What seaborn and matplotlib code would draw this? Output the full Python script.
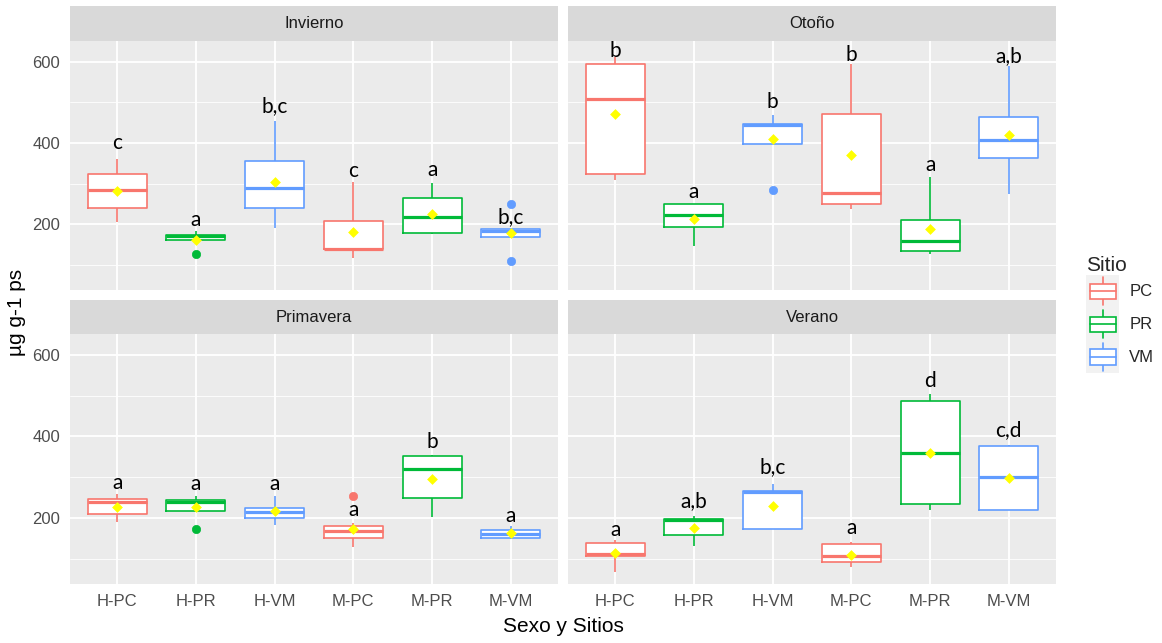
import numpy as np
import pandas as pd
import matplotlib
matplotlib.use("Agg")
import matplotlib.pyplot as plt
import seaborn as sns
from matplotlib.patches import Rectangle
from matplotlib.lines import Line2D
from matplotlib.legend_handler import HandlerBase

# ---------------- data ----------------
seasons = ["Invierno", "Otoño", "Primavera", "Verano"]
groups = ["H-PC", "H-PR", "H-VM", "M-PC", "M-PR", "M-VM"]
sites = ["PC", "PR", "VM"]
site_colors = ["#F8766D", "#00BA38", "#619CFF"]

whisker_low = {
    "Invierno":  [206, 161, 191, 118, 175, 168],
    "Otoño":     [310, 146, 398, 238, 126, 275],
    "Primavera": [189, 218, 183, 128, 203, 148],
    "Verano":    [67, 132, 173, 79, 220, 219],
}
q1 = {
    "Invierno":  [241, 161, 241, 138, 179, 168],
    "Otoño":     [323, 192, 398, 249, 135, 364],
    "Primavera": [210, 218, 201, 152, 249, 152],
    "Verano":    [106, 158, 173, 92, 233, 219],
}
median = {
    "Invierno":  [285, 170, 289, 140, 218, 184],
    "Otoño":     [508, 222, 444, 278, 158, 407],
    "Primavera": [238, 240, 214, 167, 321, 161],
    "Verano":    [112, 194, 264, 106, 359, 300],
}
q3 = {
    "Invierno":  [323, 173, 356, 207, 265, 187],
    "Otoño":     [594, 249, 446, 471, 210, 464],
    "Primavera": [247, 243, 224, 180, 351, 170],
    "Verano":    [139, 198, 267, 135, 486, 376],
}
whisker_high = {
    "Invierno":  [360, 183, 455, 304, 301, 187],
    "Otoño":     [611, 249, 469, 594, 315, 590],
    "Primavera": [258, 253, 253, 188, 354, 181],
    "Verano":    [145, 204, 282, 141, 503, 380],
}
means = {
    "Invierno":  [282, 162, 305, 180, 226, 179],
    "Otoño":     [471, 212, 409, 370, 187, 419],
    "Primavera": [226, 226, 216, 173, 295, 162],
    "Verano":    [114, 175, 230, 110, 360, 297],
}
outlier_season = ["Invierno", "Invierno", "Invierno", "Otoño", "Primavera", "Primavera"]
outlier_group = ["H-PR", "M-VM", "M-VM", "H-VM", "H-PR", "M-PC"]
outlier_value = [126, 249, 109, 283, 173, 253]

letters = {
    "Invierno":  ["c", "a", "b,c", "c", "a", "b,c"],
    "Otoño":     ["b", "a", "b", "b", "a", "a,b"],
    "Primavera": ["a", "a", "a", "a", "b", "a"],
    "Verano":    ["a", "a,b", "b,c", "a", "d", "c,d"],
}
letter_y = {
    "Invierno":  [386, 195, 477, 316, 318, 203],
    "Otoño":     [611, 265, 486, 602, 332, 600],
    "Primavera": [272, 269, 269, 204, 371, 189],
    "Verano":    [155, 227, 310, 161, 521, 400],
}

# ---------------- long tables ----------------
rows = []
for s in seasons:
    for i, g in enumerate(groups):
        vals = [whisker_low[s][i], whisker_low[s][i], q1[s][i], q1[s][i], median[s][i],
                q3[s][i], q3[s][i], whisker_high[s][i], whisker_high[s][i]]
        for os_, og, ov in zip(outlier_season, outlier_group, outlier_value):
            if os_ == s and og == g:
                if ov < q1[s][i]:
                    vals[0] = ov
                else:
                    vals[-1] = ov
        for v in vals:
            rows.append({"Estacion": s, "Grupo": g, "Sitio": g.split("-")[1], "valor": v})
df = pd.DataFrame(rows)
mean_df = pd.DataFrame([{"Estacion": s, "Grupo": g, "media": means[s][i]}
                        for s in seasons for i, g in enumerate(groups)])

# ---------------- style ----------------
sns.set_theme(style="darkgrid", rc={
    "axes.facecolor": "#EBEBEB",
    "grid.color": "white",
    "figure.facecolor": "white",
})
plt.rcParams["font.family"] = ["Liberation Sans", "DejaVu Sans"]

W, H = 1162, 643
fig = plt.figure(figsize=(W / 100, H / 100), dpi=100)

col_x = [(70, 558), (568, 1056)]
row_y = [(41, 290), (334, 584)]
strip_h = [35, 34]
pal = dict(zip(sites, site_colors))


class BoxKeyHandler(HandlerBase):
    def create_artists(self, legend, orig_handle, xdescent, ydescent, width, height,
                       fontsize, trans):
        c = orig_handle.get_color()
        x0, y0 = -xdescent, -ydescent
        cx = x0 + width / 2
        bg = Rectangle((x0, y0), width, height, facecolor="#F2F2F2", edgecolor="none",
                       transform=trans)
        wl = Line2D([cx, cx], [y0 + height * 0.07, y0 + height * 0.93], color=c, lw=1.2,
                    transform=trans)
        bx = Rectangle((x0 + width * 0.12, y0 + height * 0.27), width * 0.78, height * 0.46,
                       facecolor="white", edgecolor=c, lw=1.2, transform=trans)
        md = Line2D([x0 + width * 0.12, x0 + width * 0.9], [y0 + height / 2] * 2, color=c,
                    lw=1.2, transform=trans)
        return [bg, wl, bx, md]


for k, s in enumerate(seasons):
    r, c = divmod(k, 2)
    x0, x1 = col_x[c]
    y0, y1 = row_y[r]
    ax = fig.add_axes([x0 / W, 1 - y1 / H, (x1 - x0) / W, (y1 - y0) / H])
    sub = df[df["Estacion"] == s]

    # white box bodies
    sns.boxplot(data=sub, x="Grupo", y="valor", order=groups, color="white", fill=True,
                width=0.75, linewidth=0, showfliers=False, showcaps=False, ax=ax)
    # coloured outlines
    sns.boxplot(data=sub, x="Grupo", y="valor", hue="Sitio", order=groups, hue_order=sites,
                palette=pal, dodge=False, fill=False, width=0.75, linewidth=1.2,
                showcaps=False, whis=1.5,
                medianprops=dict(linewidth=2.3),
                flierprops=dict(marker="o", markersize=6, markeredgewidth=0.5),
                legend=False, ax=ax)
    for ln in ax.lines:
        if ln.get_marker() == "o":
            ln.set_markerfacecolor(ln.get_markeredgecolor())

    # mean points
    sns.stripplot(data=mean_df[mean_df["Estacion"] == s], x="Grupo", y="media", order=groups,
                  jitter=False, color="#FFFF00", marker="D", size=5.5, linewidth=0,
                  zorder=5, ax=ax)

    # significance letters
    for i, g in enumerate(groups):
        ax.text(i, letter_y[s][i], letters[s][i], ha="center", va="baseline",
                fontsize=15, family=["Lato", "DejaVu Sans"], color="black", zorder=6)

    ax.set_xlim(-0.6, 5.6)
    ax.set_ylim(38, 651)
    ax.set_yticks([200, 400, 600])
    ax.set_yticks([100, 300, 500], minor=True)
    ax.set_xticks(range(len(groups)))
    ax.set_xticklabels(groups)
    ax.xaxis.grid(True, which="major", color="white", lw=1.3)
    ax.yaxis.grid(True, which="major", color="white", lw=1.3)
    ax.yaxis.grid(True, which="minor", color="white", lw=0.6)
    ax.set_axisbelow(True)
    ax.set_xlabel("")
    ax.set_ylabel("")
    for sp in ax.spines.values():
        sp.set_visible(False)
    ax.tick_params(which="minor", length=0)
    ax.tick_params(which="major", length=4, width=1, color="#333333", labelsize=12,
                   labelcolor="#4D4D4D", pad=3)
    if r == 0:
        ax.tick_params(axis="x", labelbottom=False, length=0)
    if c == 1:
        ax.tick_params(axis="y", labelleft=False, length=0)

    # facet strip
    fig.add_artist(Rectangle((x0 / W, 1 - y0 / H), (x1 - x0) / W, strip_h[r] / H,
                             transform=fig.transFigure, facecolor="#D9D9D9",
                             edgecolor="none"))
    fig.text((x0 + x1) / 2 / W, 1 - (y0 - strip_h[r] / 2) / H, s, ha="center",
             va="center", fontsize=12, color="#1A1A1A")

fig.text(17 / W, 1 - 312 / H, "µg g-1 ps", rotation=90, ha="center", va="center",
         fontsize=15, color="black")
fig.text(563 / W, 1 - 627 / H, "Sexo y Sitios", ha="center", va="center",
         fontsize=15, color="black")

handles = [Line2D([], [], color=col) for col in site_colors]
fig.legend(handles, sites, handler_map={Line2D: BoxKeyHandler()}, loc="upper left",
           bbox_to_anchor=(1086 / W, 1 - 256 / H), frameon=False, title="Sitio",
           title_fontsize=15, fontsize=12, handlelength=2.0, handleheight=2.65,
           labelspacing=0, handletextpad=0.6, borderpad=0, borderaxespad=0,
           alignment="left")

fig.savefig("out.png", dpi=100)
